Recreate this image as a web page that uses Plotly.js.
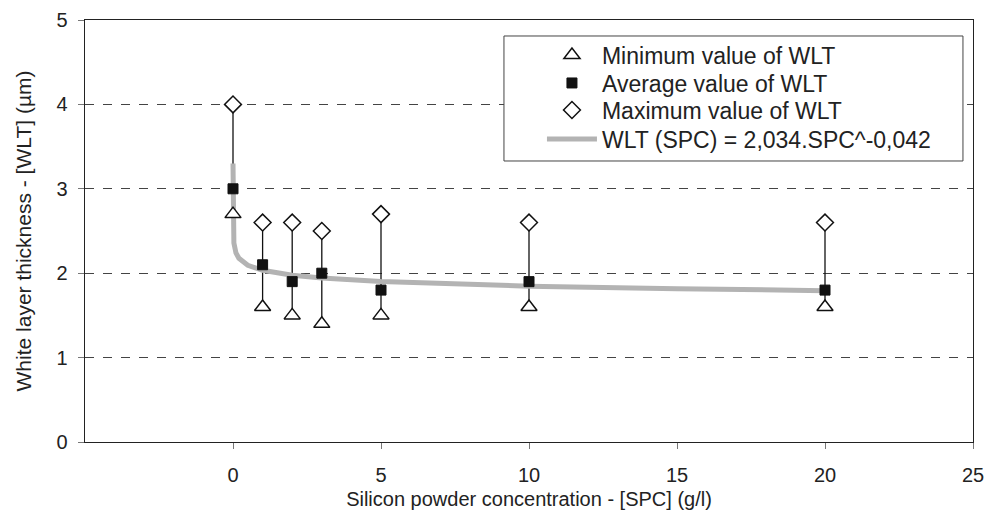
<!DOCTYPE html>
<html>
<head>
<meta charset="utf-8">
<script src="https://cdn.plot.ly/plotly-3.0.1.min.js"></script>
<style>html,body{margin:0;padding:0;background:#fff;}#chart{width:999px;height:520px;}</style>
</head>
<body>
<div id="chart"></div>
<script>
// Data
const spc = [0, 1, 2, 3, 5, 10, 20];
const wltMin = [2.7, 1.6, 1.5, 1.4, 1.5, 1.6, 1.6];
const wltAvg = [3.0, 2.1, 1.9, 2.0, 1.8, 1.9, 1.8];
const wltMax = [4.0, 2.6, 2.6, 2.5, 2.7, 2.6, 2.6];
// Trend line as stated in the legend: WLT = 2,034 * SPC^-0,042
const fitA = 2.034;
const fitB = -0.042;
const fitX = [0.00001, 0.00003, 0.0001, 0.0003, 0.001, 0.003, 0.01, 0.03, 0.1, 0.2, 0.5, 1, 2, 3, 5, 7, 10, 15, 20];
const xTicks = [0, 5, 10, 15, 20, 25];
const yTicks = [0, 1, 2, 3, 4, 5];

const fitY = fitX.map(x => fitA * Math.pow(x, fitB));
const vx = [], vy = [];
spc.forEach((x, i) => { vx.push(x, x, null); vy.push(wltMin[i], wltMax[i], null); });

const font = 'Liberation Sans, Arial, sans-serif';
const traces = [
  {x: vx, y: vy, mode: 'lines', line: {color: '#111', width: 1.3}, showlegend: false, hoverinfo: 'skip'},
  {x: fitX, y: fitY, mode: 'lines', name: 'WLT (SPC) = 2,034.SPC^-0,042', line: {color: '#b3b3b3', width: 5}, legend: 'legend4'},
  {x: spc, y: wltMin, mode: 'markers', name: 'Minimum value of WLT', marker: {symbol: 'triangle-up', size: 14, color: '#fff', line: {color: '#111', width: 1.5}}, legend: 'legend'},
  {x: spc, y: wltAvg, mode: 'markers', name: 'Average value of WLT', marker: {symbol: 'square', size: 10, color: '#111', line: {color: '#111', width: 1}}, legend: 'legend2'},
  {x: spc, y: wltMax, mode: 'markers', name: 'Maximum value of WLT', marker: {symbol: 'diamond', size: 13, color: '#fff', line: {color: '#111', width: 1.5}}, legend: 'legend3'}
];

function leg(yc) {
  return {
    x: 0.5146, y: yc, xanchor: 'left', yanchor: 'middle',
    borderwidth: 0, bgcolor: 'rgba(0,0,0,0)',
    font: {family: font, size: 23, color: '#222'},
    itemwidth: 50
  };
}

const layout = {
  width: 999, height: 520,
  margin: {l: 85, r: 26, t: 20, b: 78},
  paper_bgcolor: '#fff', plot_bgcolor: '#fff',
  font: {family: font, size: 20, color: '#222'},
  showlegend: true,
  legend: leg(0.917),
  legend2: leg(0.8507),
  legend3: leg(0.7867),
  legend4: leg(0.718),
  shapes: [{
    type: 'rect', xref: 'paper', yref: 'paper',
    x0: 0.4718, x1: 0.9887, y0: 0.6659, y1: 0.9621,
    line: {color: '#444', width: 1}, fillcolor: '#fff', layer: 'above'
  }],
  xaxis: {
    range: [-5, 25], tickvals: xTicks, ticktext: xTicks.map(String),
    showgrid: false, zeroline: false,
    showline: true, linecolor: '#222', linewidth: 1.3, mirror: true,
    ticks: 'outside', ticklen: 6, tickcolor: '#777',
    ticklabelstandoff: 9,
    tickfont: {family: font, size: 20, color: '#222'},
    title: {text: 'Silicon powder concentration - [SPC] (g/l)', font: {family: font, size: 20, color: '#222'}, standoff: 6}
  },
  yaxis: {
    range: [0, 5], tickvals: yTicks, ticktext: yTicks.map(String),
    showgrid: true, gridcolor: '#444', griddash: 'dash', gridwidth: 1,
    zeroline: false,
    showline: true, linecolor: '#222', linewidth: 1.3, mirror: true,
    ticks: 'outside', ticklen: 6, tickcolor: '#777',
    ticklabelstandoff: 6,
    tickfont: {family: font, size: 20, color: '#222'},
    title: {text: 'White layer thickness - [WLT] (µm)', font: {family: font, size: 21, color: '#222'}, standoff: 19}
  }
};

Plotly.newPlot('chart', traces, layout, {staticPlot: true, displayModeBar: false});
</script>
</body>
</html>
